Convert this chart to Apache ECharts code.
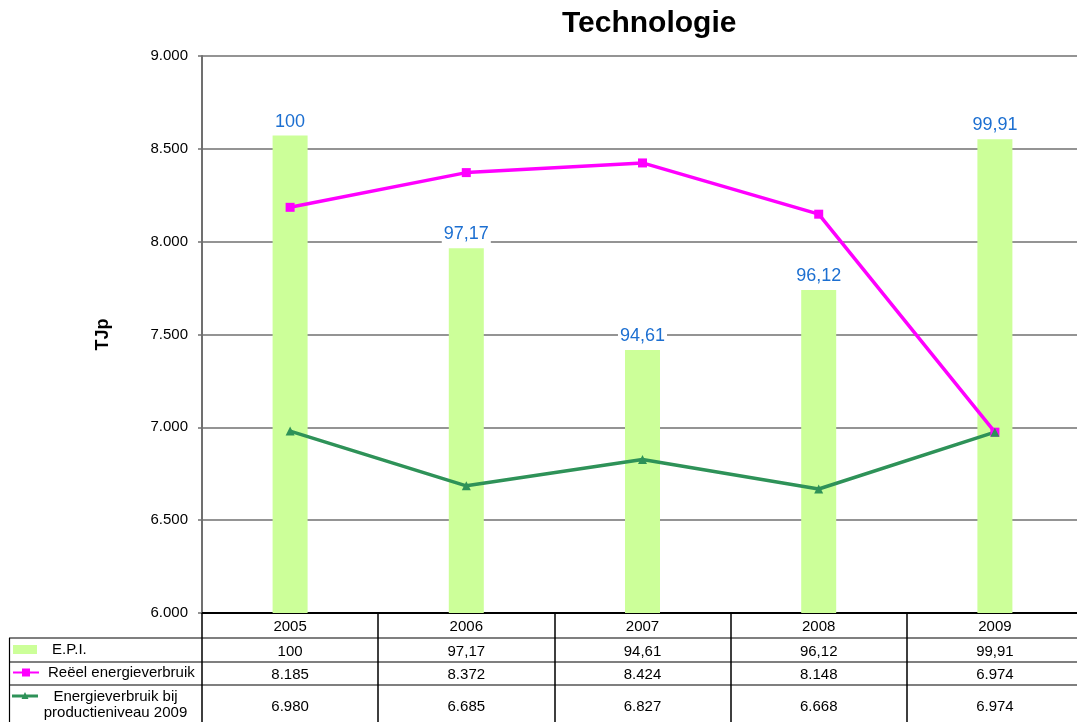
<!DOCTYPE html>
<html>
<head>
<meta charset="utf-8">
<script src="https://cdn.jsdelivr.net/npm/echarts@6/dist/echarts.min.js"></script>
<style>
  html, body { margin: 0; padding: 0; background: #fff; overflow: hidden; }
  /* a bit wider than the window: the last table column runs off the right edge */
  #chart { width: 1090px; height: 722px; }
</style>
</head>
<body>
<div id="chart"></div>
<script>
const years = ['2005', '2006', '2007', '2008', '2009'];
const epi = [100, 97.17, 94.61, 96.12, 99.91];
const reeel = [8185, 8372, 8424, 8148, 6974];
const productie = [6980, 6685, 6827, 6668, 6974];

const FONT = 'Liberation Sans, Arial, sans-serif';

// Dutch number format: 8.185 / 97,17
function nl(v) {
  const dec = Number.isInteger(v) ? 0 : 2;
  const parts = v.toFixed(dec).split('.');
  const int = parts[0].replace(/\B(?=(\d{3})+(?!\d))/g, '.');
  return parts[1] ? int + ',' + parts[1] : int;
}

const chart = echarts.init(document.getElementById('chart'), null, { renderer: 'canvas' });

const option = {
  animation: false,
  backgroundColor: '#fff',
  textStyle: { fontFamily: FONT, color: '#000' },
  title: {
    text: 'Technologie',
    left: 562,
    top: 9,
    padding: 0,
    textStyle: { fontFamily: FONT, fontSize: 30, fontWeight: 'bold', color: '#000' }
  },
  legend: [
    {
      data: ['E.P.I.'],
      left: 13, top: 642, padding: 0,
      icon: 'rect', itemWidth: 24, itemHeight: 9,
      textStyle: { fontFamily: FONT, fontSize: 15, color: '#000', padding: [0, 0, 0, 10] }
    },
    {
      data: ['Reëel energieverbruik'],
      left: 12, top: 665, padding: 0,
      itemWidth: 26, itemHeight: 10,
      textStyle: { fontFamily: FONT, fontSize: 15, color: '#000', padding: [0, 0, 0, 4] }
    },
    {
      data: ['Energieverbruik bij\nproductieniveau 2009'],
      left: 12, top: 688, padding: 0,
      // line + triangle drawn in the upper part of a tall key, level with the first text line
      icon: 'path://M0,0 L0,0 M0,6.5 L26,6.5 L26,9.5 L0,9.5 Z M9.5,11 L13,4 L16.5,11 Z M26,34 L26,34',
      itemWidth: 26, itemHeight: 34,
      formatter: name => '{c|' + name + '}',
      textStyle: {
        fontFamily: FONT, fontSize: 15, color: '#000',
        rich: { c: { fontFamily: FONT, fontSize: 15, lineHeight: 16, width: 145, align: 'center' } }
      }
    }
  ],
  grid: { left: 202, top: 56, width: 881, height: 557 },
  xAxis: {
    type: 'category',
    data: years,
    boundaryGap: true,
    axisLine: { lineStyle: { color: '#000', width: 2 } },
    axisTick: { show: true, length: 109, lineStyle: { color: '#000', width: 1.5 } },
    axisLabel: {
      interval: 0,
      margin: 1,
      formatter: (value, i) =>
        '{h|' + value + '}\n{a|' + nl(epi[i]) + '}\n{b|' + nl(reeel[i]) + '}\n{c|' + nl(productie[i]) + '}',
      rich: {
        h: { fontFamily: FONT, fontSize: 15, color: '#000', lineHeight: 26 },
        a: { fontFamily: FONT, fontSize: 15, color: '#000', lineHeight: 23 },
        b: { fontFamily: FONT, fontSize: 15, color: '#000', lineHeight: 23 },
        c: { fontFamily: FONT, fontSize: 15, color: '#000', lineHeight: 42 }
      }
    }
  },
  yAxis: [
    {
      type: 'value',
      min: 6000, max: 9000, interval: 500,
      name: 'TJp',
      nameLocation: 'middle',
      nameRotate: 90,
      nameGap: 90,
      nameTextStyle: { fontFamily: FONT, fontSize: 18, fontWeight: 'bold', color: '#000' },
      axisLine: { show: true, lineStyle: { color: '#707070', width: 2 } },
      axisTick: { show: true, length: 4, lineStyle: { color: '#707070', width: 1.5 } },
      axisLabel: { margin: 14, fontSize: 15, color: '#000', fontFamily: FONT, formatter: v => nl(v) },
      splitLine: { lineStyle: { color: '#707070', width: 1.5 } }
    },
    {
      type: 'value',
      min: 88, max: 102,
      show: false,
      splitLine: { show: false }
    }
  ],
  graphic: [
    { type: 'line', shape: { x1: 9, y1: 638, x2: 1090, y2: 638 }, style: { stroke: '#000', lineWidth: 1.2 } },
    { type: 'line', shape: { x1: 9, y1: 662, x2: 1090, y2: 662 }, style: { stroke: '#000', lineWidth: 1.2 } },
    { type: 'line', shape: { x1: 9, y1: 685, x2: 1090, y2: 685 }, style: { stroke: '#000', lineWidth: 1.2 } },
    { type: 'line', shape: { x1: 9.5, y1: 638, x2: 9.5, y2: 722 }, style: { stroke: '#000', lineWidth: 1.2 } }
  ],
  series: [
    {
      name: 'E.P.I.',
      type: 'bar',
      yAxisIndex: 1,
      data: epi,
      barWidth: 35,
      itemStyle: { color: '#CCFF99' },
      label: {
        show: true,
        position: 'top',
        distance: 5,
        formatter: p => nl(p.value),
        fontFamily: FONT,
        fontSize: 18,
        color: '#1C6FD1',
        backgroundColor: '#fff',
        padding: [0, 2, 0, 2]
      }
    },
    {
      name: 'Reëel energieverbruik',
      type: 'line',
      data: reeel,
      symbol: 'rect',
      symbolSize: 9,
      lineStyle: { color: '#FF00FF', width: 3.5 },
      itemStyle: { color: '#FF00FF' }
    },
    {
      name: 'Energieverbruik bij\nproductieniveau 2009',
      type: 'line',
      data: productie,
      symbol: 'triangle',
      symbolSize: 9,
      lineStyle: { color: '#2E9258', width: 3.5 },
      itemStyle: { color: '#2E9258' }
    }
  ]
};

chart.setOption(option);
</script>
</body>
</html>
